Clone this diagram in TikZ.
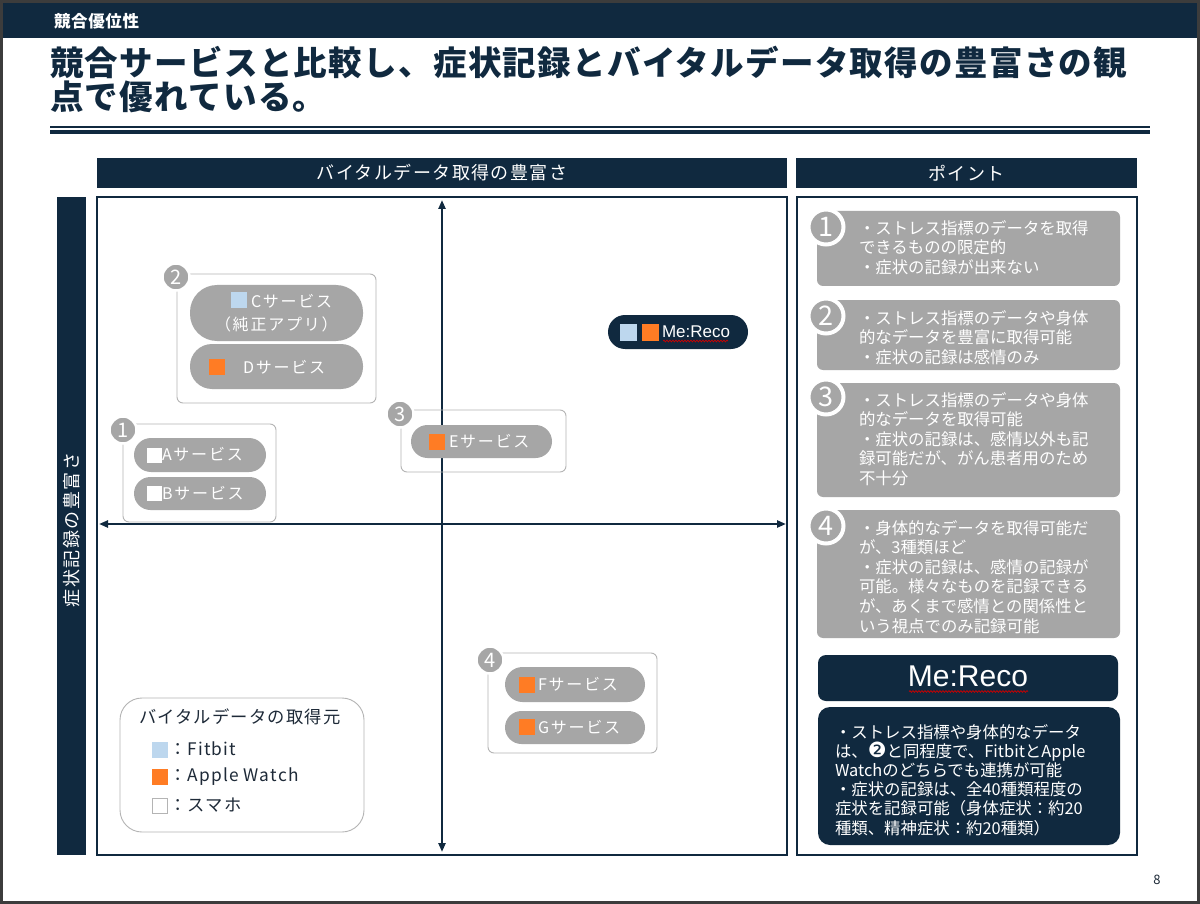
\documentclass[tikz,border=0pt]{standalone}
\usepackage{fontspec}
\setmainfont{Noto Sans CJK JP}
\newfontfamily\jp{Noto Sans CJK JP}
\newfontfamily\jpsp[LetterSpace=8]{Noto Sans CJK JP}
\newfontfamily\jpsm[LetterSpace=11]{Noto Sans CJK JP}
\newfontfamily\jpleg[LetterSpace=7]{Noto Sans CJK JP}
\newfontfamily\jptt[LetterSpace=4]{Noto Sans CJK JP}
\newfontfamily\dejavu{DejaVu Sans}
\newfontfamily\lib{Liberation Sans}
\usetikzlibrary{arrows.meta,decorations.pathmorphing}
\definecolor{navy}{HTML}{10293F}
\definecolor{pillgray}{HTML}{A6A6A6}
\definecolor{grpline}{HTML}{B4B4B4}
\definecolor{ltblue}{HTML}{BDD7EE}
\definecolor{orng}{HTML}{FF7C24}
\definecolor{slideframe}{HTML}{3C3C3C}
\definecolor{legtext}{HTML}{1E2A38}
\begin{document}
\begin{tikzpicture}[x=1pt,y=-1pt,
  every node/.style={inner sep=0pt, outer sep=0pt},
  bar/.style={fill=navy, draw=none, text=white},
  pill/.style={fill=pillgray, draw=none},
  grp/.style={draw=grpline, line width=0.9pt, rounded corners=6pt, anchor=north west},
  qnum/.style={circle, fill=pillgray, draw=white, line width=2.5pt, minimum size=27pt, text=white, font=\jp\fontsize{20}{20}\selectfont},
  pnum/.style={circle, fill=pillgray, draw=white, line width=4pt, minimum size=35pt, text=white, font=\jp\fontsize{27}{27}\selectfont},
  pilltxt/.style={text=white, font=\jpsm\fontsize{16}{16}\selectfont, anchor=west},
  sq/.style={minimum size=16pt, draw=none},
  ptxt/.style={text=white, font=\jp\fontsize{16.4}{16.4}\selectfont, anchor=base west},
  pbox/.style={fill=pillgray, rounded corners=6pt, anchor=north west},
  legtxt/.style={text=legtext, font=\jpleg\fontsize{17.3}{17.3}\selectfont, anchor=west},
  axis/.style={draw=navy, line width=2.2pt, {Triangle[length=9pt,width=7pt]}-{Triangle[length=9pt,width=7pt]}},
  wavy/.style={draw=red!80!black, line width=0.7pt, decorate, decoration={snake, amplitude=0.9pt, segment length=3pt}},
]
\useasboundingbox (0,0) rectangle (1200,904);
\fill[white] (0,0) rectangle (1200,904);
\draw[slideframe, line width=3pt] (1.5,1.5) rectangle (1198.5,902.5);

% header
\node[bar, minimum width=1194pt, minimum height=35pt, anchor=north west] (hdr) at (3,3) {};
\node[anchor=west, text=white, font=\jptt\bfseries\fontsize{16.5}{16.5}\selectfont] (hdrt) at (54,21) {競合優位性};

% title
\node[anchor=base west, text=navy, font=\jptt\bfseries\fontsize{33.5}{33.5}\selectfont] (ttl1) at (50,76) {競合サービスと比較し、症状記録とバイタルデータ取得の豊富さの観};
\node[anchor=base west, text=navy, font=\jptt\bfseries\fontsize{33.5}{33.5}\selectfont] (ttl2) at (50,110) {点で優れている。};
\draw[navy, line width=1.2pt] (50,127) -- (1150,127);
\draw[navy, line width=4.5pt] (50,131.8) -- (1150,131.8);

% section headers
\node[bar, minimum width=690pt, minimum height=30pt, font=\jpsp\fontsize{18}{18}\selectfont] (hx) at (442,173) {バイタルデータ取得の豊富さ};
\node[bar, minimum width=341pt, minimum height=30pt, font=\jpsp\fontsize{18}{18}\selectfont] (hp) at (966.5,173) {ポイント};
\node[bar, minimum width=29pt, minimum height=658pt] (hy) at (71.5,526) {};
\node[rotate=90, text=white, font=\jpsp\fontsize{18}{18}\selectfont] (hyt) at (71.5,530) {症状記録の豊富さ};

% frames
\node[draw=navy, line width=1.2pt, minimum width=690pt, minimum height=658pt] (qbox) at (442,526) {};
\node[draw=navy, line width=1.2pt, minimum width=340pt, minimum height=658pt] (pframe) at (967,526) {};

% axes
\coordinate (axT) at (442,200);
\coordinate (axB) at (442,852);
\coordinate (axL) at (99,524);
\coordinate (axR) at (786,524);
\draw[axis] (axT) -- (axB);
\draw[axis] (axL) -- (axR);

% group boxes
\node[grp, minimum width=199pt, minimum height=129pt] (g2) at (177,274) {};
\node[grp, minimum width=153pt, minimum height=98pt] (g1) at (123,424) {};
\node[grp, minimum width=165pt, minimum height=62pt] (g3) at (401,410) {};
\node[grp, minimum width=169pt, minimum height=100pt] (g4) at (488,653) {};

% pills
\node[pill, minimum width=173pt, minimum height=56pt, rounded corners=27pt] (pC) at (276.5,313) {};
\node[pill, minimum width=173pt, minimum height=45pt, rounded corners=22pt] (pD) at (276.5,366.5) {};
\node[pill, minimum width=132pt, minimum height=34pt, rounded corners=17pt] (pA) at (200,455) {};
\node[pill, minimum width=132pt, minimum height=33pt, rounded corners=16.5pt] (pB) at (200,493.5) {};
\node[pill, minimum width=141pt, minimum height=33pt, rounded corners=16.5pt] (pE) at (481.5,441.5) {};
\node[pill, minimum width=140pt, minimum height=35pt, rounded corners=17.5pt] (pF) at (575,684.5) {};
\node[pill, minimum width=140pt, minimum height=33pt, rounded corners=16.5pt] (pG) at (575,727.5) {};
\node[fill=navy, minimum width=140pt, minimum height=34pt, rounded corners=17pt] (pM) at (678,332) {};

% squares in pills
\node[sq, fill=ltblue] (sC) at (239,300) {};
\node[sq, fill=orng] (sD) at (216.5,367) {};
\node[sq, fill=white, minimum size=15pt] (sA) at (154,455.5) {};
\node[sq, fill=white, minimum size=15pt] (sB) at (154,493.5) {};
\node[sq, fill=orng] (sE) at (437,442) {};
\node[sq, fill=orng] (sF) at (527,685) {};
\node[sq, fill=orng] (sG) at (527,727) {};
\node[sq, fill=ltblue, minimum size=17pt] (sM1) at (628,332) {};
\node[sq, fill=orng, minimum size=17pt] (sM2) at (650,332) {};

% pill texts
\node[pilltxt] (tC1) at (251,301) {Cサービス};
\node[pilltxt] (tC2) at (215,324) {（純正アプリ）};
\node[pilltxt] (tD) at (243,367) {Dサービス};
\node[pilltxt] (tA) at (162,454) {Aサービス};
\node[pilltxt] (tB) at (162,493) {Bサービス};
\node[pilltxt] (tE) at (449,441) {Eサービス};
\node[pilltxt] (tF) at (538,684) {Fサービス};
\node[pilltxt] (tG) at (538,727) {Gサービス};
\node[anchor=west, text=white, font=\lib\fontsize{17}{17}\selectfont] (tM) at (662,332) {Me:Reco};
\draw[wavy] (663,341) -- (728,341);

% quadrant numbers
\node[qnum] (n2) at (176,277) {2};
\node[qnum] (n1) at (123,430) {1};
\node[qnum] (n3) at (400,414) {3};
\node[qnum] (n4) at (490,660) {4};

% legend
\node[draw=grpline, line width=0.9pt, rounded corners=22pt, minimum width=244pt, minimum height=134pt, anchor=north west] (leg) at (120,698) {};
\node[legtxt] (legt) at (139,717) {バイタルデータの取得元};
\node[sq, fill=ltblue] (lq1) at (160,749.5) {};
\node[sq, fill=orng] (lq2) at (160,777) {};
\node[sq, fill=white, draw=grpline, line width=1pt, minimum size=15pt] (lq3) at (160,805.5) {};
\node[legtxt] (lt1) at (169,749) {：Fitbit};
\node[legtxt] (lt2) at (169,777) {：Apple Watch};
\node[legtxt] (lt3) at (169,805) {：スマホ};

% right panel boxes
\node[pbox, minimum width=303pt, minimum height=75pt] (b1) at (817,211) {};
\node[pbox, minimum width=303pt, minimum height=70pt] (b2) at (817,300) {};
\node[pbox, minimum width=303pt, minimum height=114pt] (b3) at (817,383) {};
\node[pbox, minimum width=303pt, minimum height=128pt] (b4) at (817,510) {};
\node[fill=navy, rounded corners=8pt, minimum width=300pt, minimum height=46pt, anchor=north west] (mh) at (818,655) {};
\node[fill=navy, rounded corners=12pt, minimum width=302pt, minimum height=138pt, anchor=north west] (mb) at (818,707) {};
\node[text=white, font=\lib\fontsize{30}{30}\selectfont] (mht) at (968,676) {Me:Reco};
\draw[wavy] (909,691.5) -- (1028,691.5);

\node[pnum] (r1) at (826,227) {1};
\node[pnum] (r2) at (826,316) {2};
\node[pnum] (r3) at (826,397) {3};
\node[pnum] (r4) at (826,526) {4};

\foreach \t [count=\i from 0] in {{・ストレス指標のデータを取得},{できるものの限定的},{・症状の記録が出来ない}}
  \node[ptxt] (p1l\i) at (859,{235+19*\i}) {\t};
\foreach \t [count=\i from 0] in {{・ストレス指標のデータや身体},{的なデータを豊富に取得可能},{・症状の記録は感情のみ}}
  \node[ptxt] (p2l\i) at (859,{324+19.5*\i}) {\t};
\foreach \t [count=\i from 0] in {{・ストレス指標のデータや身体},{的なデータを取得可能},{・症状の記録は、感情以外も記},{録可能だが、がん患者用のため},{不十分}}
  \node[ptxt] (p3l\i) at (859,{406+19.6*\i}) {\t};
\foreach \t [count=\i from 0] in {{・身体的なデータを取得可能だ},{が、3種類ほど},{・症状の記録は、感情の記録が},{可能。様々なものを記録できる},{が、あくまで感情との関係性と},{いう視点でのみ記録可能}}
  \node[ptxt] (p4l\i) at (859,{534+19.6*\i}) {\t};
\foreach \t [count=\i from 0] in {{・ストレス指標や身体的なデータ},{は、{\dejavu\fontsize{21}{21}\selectfont ❷}と同程度で、FitbitとApple},{Watchのどちらでも連携が可能},{・症状の記録は、全40種類程度の},{症状を記録可能（身体症状：約20},{種類、精神症状：約20種類）}}
  \node[ptxt] (p5l\i) at (835,{738+19.2*\i}) {\t};

% page number
\node[text=legtext, font=\jp\fontsize{13}{13}\selectfont] (pg) at (1157,880) {8};
\end{tikzpicture}
\end{document}
